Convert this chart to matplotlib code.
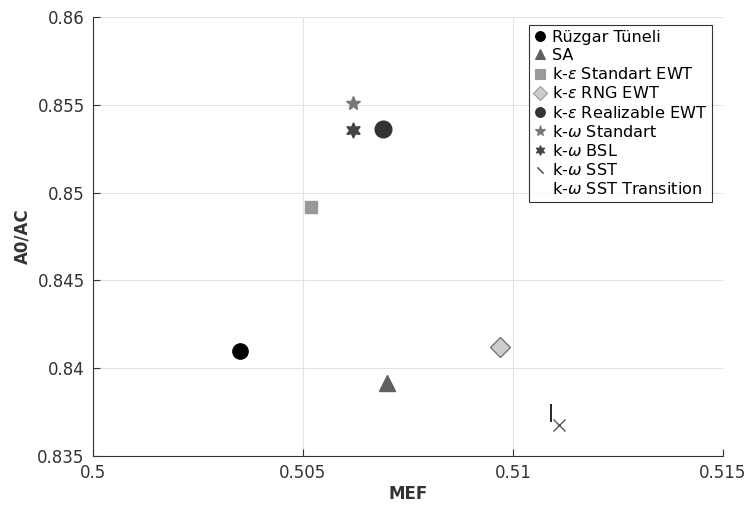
import matplotlib.pyplot as plt
from matplotlib.lines import Line2D

# MEF vs A0/AC for each turbulence model
labels = ["Rüzgar Tüneli", "SA", r"k-$\epsilon$ Standart EWT", r"k-$\epsilon$ RNG EWT",
          r"k-$\epsilon$ Realizable EWT", r"k-$\omega$ Standart", r"k-$\omega$ BSL",
          r"k-$\omega$ SST", r"k-$\omega$ SST Transition"]
mef = [0.5035, 0.5070, 0.50519, 0.5097, 0.5069, 0.5062, 0.5062, 0.5111, 0.5109]
a0_ac = [0.8410, 0.83916, 0.84918, 0.8412, 0.85362, 0.85512, 0.85356, 0.83677, 0.83746]

markers = ["o", "^", "s", "D", "o", "*", (6, 1, 0), "x", "|"]
colors = ["#000000", "#606060", "#999999", "#cccccc", "#333333", "#777777", "#444444", "#555555", "#000000"]
sizes = [11, 11, 9, 10, 12, 10, 11, 9, 13]

plt.rcParams['font.family'] = ['DejaVu Sans']
fig = plt.figure(figsize=(7.45, 5.08), dpi=100)
ax = fig.add_axes([0.1248, 0.1024, 0.8456, 0.8642])

for i in range(len(labels)):
    ec = colors[i]
    if i == 3:
        ec = "#777777"
    ax.plot(mef[i], a0_ac[i], linestyle="none", marker=markers[i], markersize=sizes[i],
            markerfacecolor=colors[i], markeredgecolor=ec, color=colors[i],
            markeredgewidth=1.0 if i != 8 else 1.2)

# legend entries drawn with smaller symbols
handles = []
for i in range(len(labels)):
    m = markers[i]
    ms = 7
    if i == 7:
        m = (2, 2, 45)
        ms = 6
    if i == 8:
        m = "None"
    if i == 5:
        ms = 8
    h = Line2D([], [], linestyle="none", marker=m, markersize=ms,
               markerfacecolor=colors[i], markeredgecolor=colors[i] if i != 3 else "#999999",
               markeredgewidth=0.8)
    handles.append(h)

leg = ax.legend(handles, labels, loc="upper right", bbox_to_anchor=(0.9825, 0.982),
                fontsize=11.6, frameon=True, fancybox=False, edgecolor="black",
                handlelength=0.7, handletextpad=0.4, labelspacing=0.2, borderpad=0.3,
                borderaxespad=0.0)
leg.get_frame().set_linewidth(0.8)

ax.set_xlim(0.5, 0.515)
ax.set_ylim(0.835, 0.86)
ax.set_xticks([0.5, 0.505, 0.51, 0.515])
ax.set_xticklabels(["0.5", "0.505", "0.51", "0.515"])
ax.set_yticks([0.835, 0.84, 0.845, 0.85, 0.855, 0.86])
ax.set_yticklabels(["0.835", "0.84", "0.845", "0.85", "0.855", "0.86"])
ax.grid(True, color="#e3e3e3", linewidth=0.8)
ax.set_axisbelow(True)
ax.spines["top"].set_visible(False)
ax.spines["right"].set_visible(False)
ax.spines["left"].set_color("#333333")
ax.spines["bottom"].set_color("#333333")
ax.tick_params(direction="in", length=5, labelsize=12, colors="#333333", pad=6)
ax.set_xlabel("MEF", fontsize=12, fontweight="bold", color="#333333", labelpad=2)
ax.set_ylabel("A0/AC", fontsize=12, fontweight="bold", color="#333333")

fig.savefig("out.png", dpi=100)
